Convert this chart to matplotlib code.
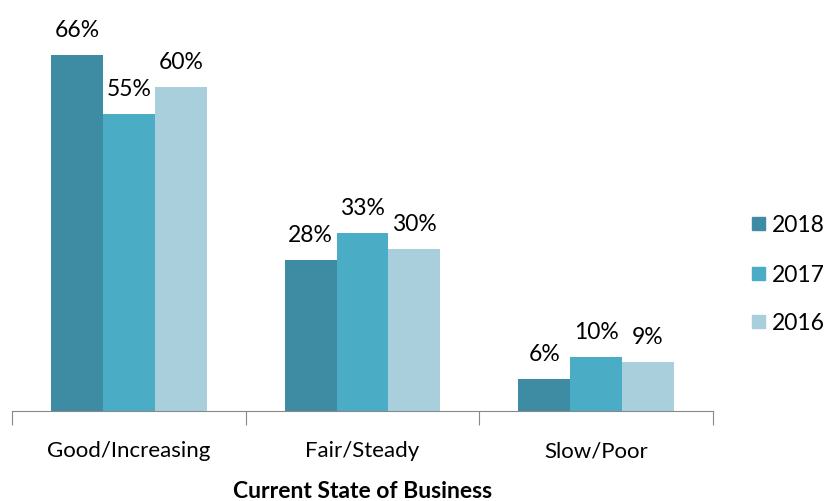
import numpy as np
import matplotlib
matplotlib.use('Agg')
import matplotlib.pyplot as plt
from matplotlib.patches import Rectangle

categories = ['Good/Increasing', 'Fair/Steady', 'Slow/Poor']
years = ['2018', '2017', '2016']
v2018 = [66, 28, 6]
v2017 = [55, 33, 10]
v2016 = [60, 30, 9]
colors = ['#3E8CA3', '#4BACC6', '#A9CFDD']

plt.rcParams['font.family'] = ['Lato', 'DejaVu Sans']

W, H = 825, 501
fig = plt.figure(figsize=(W / 100, H / 100), dpi=100)
ax = fig.add_axes([12 / W, 90 / H, 701 / W, 411 / H])
ppu = 5.4  # pixels per percent

x = np.arange(len(categories))
w = 0.222
for i, (vals, c) in enumerate(zip([v2018, v2017, v2016], colors)):
    pos = x + (i - 1) * w
    ax.bar(pos, vals, width=w, color=c)
    for p, v in zip(pos, vals):
        ax.text(p, v + 18 / ppu, '%d%%' % v, ha='center', va='baseline', fontsize=16.5)

ax.set_xlim(-0.5, 2.5)
ax.set_ylim(0, 411 / ppu)
ax.set_yticks([])
for s in ['top', 'right', 'left']:
    ax.spines[s].set_visible(False)
ax.spines['bottom'].set_color('#888888')
ax.set_xticks([-0.5, 0.5, 1.5, 2.5])
ax.set_xticklabels([])
ax.tick_params(axis='x', length=10, color='#888888', direction='out')
for xi, lab in zip(x, categories):
    ax.text(xi, -46 / ppu, lab, ha='center', va='baseline', fontsize=16)
ax.text(1, -87 / ppu, 'Current State of Business', ha='center', va='baseline',
        fontsize=16.5, fontweight='bold')

# legend drawn by hand
baselines = [232, 282, 330]
for yr, c, b in zip(years, colors, baselines):
    fig.patches.append(Rectangle((752 / W, 1 - (b - 2) / H), 13 / W, 13 / H,
                                 transform=fig.transFigure, color=c))
    fig.text(772 / W, 1 - b / H, yr, ha='left', va='baseline', fontsize=16.5)

fig.savefig('out.png', dpi=100)
